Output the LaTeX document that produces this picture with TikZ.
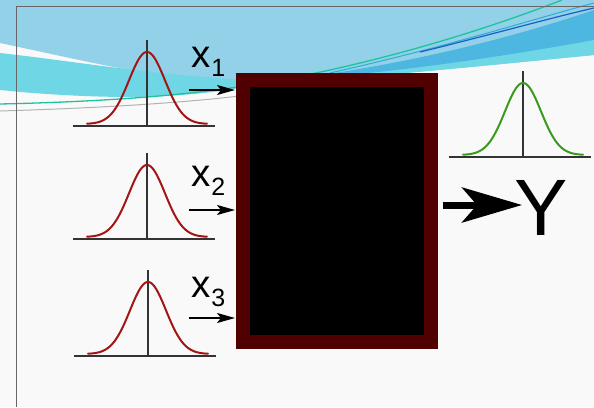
\documentclass[tikz,border=0pt]{standalone}
\usepackage{fontspec}
\newfontfamily\labelfont{Liberation Sans}
\usetikzlibrary{arrows.meta}
\definecolor{paper}{HTML}{F9F9F9}
\definecolor{skyblue}{HTML}{93D1E8}
\definecolor{cyanband}{HTML}{6FD6E6}
\definecolor{midblue}{HTML}{4DB7E2}
\definecolor{tealline}{HTML}{1CC49E}
\definecolor{cyanline}{HTML}{2AAED6}
\definecolor{deepblue}{HTML}{1A5FC8}
\definecolor{framegray}{HTML}{666666}
\definecolor{boxred}{HTML}{500000}
\definecolor{bellred}{HTML}{A31515}
\definecolor{bellgreen}{HTML}{3A9A1E}
\definecolor{axisgray}{HTML}{333333}

\tikzset{
  bell/.style={line width=2pt, line cap=round},
  bellaxis/.style={axisgray, line width=1.4pt},
  inlabel/.style={anchor=base west, inner sep=0pt, font=\labelfont\fontsize{38.5}{38.5}\selectfont},
  inarrow/.style={-{Stealth[length=18pt, width=10pt, inset=4pt]}, line width=2pt},
  outarrow/.style={-{Stealth[length=60pt, width=35pt, inset=15pt]}, line width=7pt},
}

\begin{document}
\begin{tikzpicture}[x=1pt, y=-1pt]
\useasboundingbox (0,0) rectangle (594,407);

% Slide background
\fill[paper] (0,0) rectangle (594,407);
\fill[skyblue] (0,0) -- (594,0) -- (594,55)
  .. controls (480,66) and (330,82) .. (240,82)
  .. controls (170,82) and (90,62) .. (0,43) -- cycle;
% left cyan band under the white streak
\fill[cyanband] (0,53) .. controls (80,62) and (160,76) .. (250,80)
  -- (250,86) .. controls (220,92) and (180,97) .. (120,97)
  .. controls (60,96) and (20,92) .. (0,90) -- cycle;
% right bands
\fill[cyanband] (260,81) .. controls (380,76) and (500,56) .. (594,36)
  -- (594,55) .. controls (480,66) and (330,82) .. (260,82) -- cycle;
\fill[midblue] (300,78) .. controls (420,62) and (520,35) .. (594,10)
  -- (594,40) .. controls (500,57) and (400,72) .. (300,79) -- cycle;
% thin swoosh lines
\draw[gray!60, line width=1pt] (0,111) .. controls (100,108) and (180,103) .. (240,96);
\draw[tealline, line width=1.3pt] (0,104) .. controls (180,100) and (260,85) .. (330,70)
  .. controls (420,50) and (500,24) .. (562,0);
\draw[cyanline, line width=1pt] (330,73) .. controls (450,46) and (530,20) .. (594,3);
\draw[deepblue, line width=1.2pt] (420,52) .. controls (490,35) and (550,18) .. (594,8);

% Frame
\draw[framegray, line width=0.8pt] (16,407) -- (16,6) -- (594,6);

% Black box
\node[draw=boxred, line width=14pt, fill=black, minimum width=188pt,
  minimum height=262pt, inner sep=0pt] (box) at (337,211) {};

% Input distributions
\draw[bellaxis] (73,126) -- (215,126);
\draw[bellaxis] (147,40) -- (147,126);
\draw[bell, bellred] plot[domain=-60:60, samples=100, smooth]
  ({147+\x}, {124-72*exp(-(\x*\x)/648)});

\draw[bellaxis] (73,239) -- (215,239);
\draw[bellaxis] (147,153) -- (147,239);
\draw[bell, bellred] plot[domain=-60:60, samples=100, smooth]
  ({147+\x}, {237-72*exp(-(\x*\x)/648)});

\draw[bellaxis] (74,356) -- (216,356);
\draw[bellaxis] (148,270) -- (148,356);
\draw[bell, bellred] plot[domain=-60:60, samples=100, smooth]
  ({148+\x}, {354-72*exp(-(\x*\x)/648)});

% Output distribution
\draw[bellaxis] (449,157) -- (591,157);
\draw[bellaxis] (523,71) -- (523,157);
\draw[bell, bellgreen] plot[domain=-60:60, samples=100, smooth]
  ({523+\x}, {155-72*exp(-(\x*\x)/648)});

% Input labels and arrows
\node[inlabel] (x1) at (191,67) {x\kern1pt\raisebox{-9pt}{\fontsize{25}{25}\selectfont 1}};
\node[inlabel] (x2) at (191,186) {x\kern1pt\raisebox{-9pt}{\fontsize{25}{25}\selectfont 2}};
\node[inlabel] (x3) at (191,297) {x\kern1pt\raisebox{-9pt}{\fontsize{25}{25}\selectfont 3}};

\coordinate (in1) at (189,90);
\coordinate (in2) at (189,210);
\coordinate (in3) at (189,318);
\draw[inarrow, shorten >=1pt] (in1) -- (in1 -| box.west);
\draw[inarrow, shorten >=1pt] (in2) -- (in2 -| box.west);
\draw[inarrow, shorten >=1pt] (in3) -- (in3 -| box.west);

% Output
\node[anchor=base west, inner sep=0pt,
  font=\labelfont\fontsize{80}{80}\selectfont] (Y) at (514,235) {Y};
\coordinate (out) at (443,205);
\draw[outarrow, shorten >=-8pt] (out) -- (out -| Y.west);

\end{tikzpicture}
\end{document}
